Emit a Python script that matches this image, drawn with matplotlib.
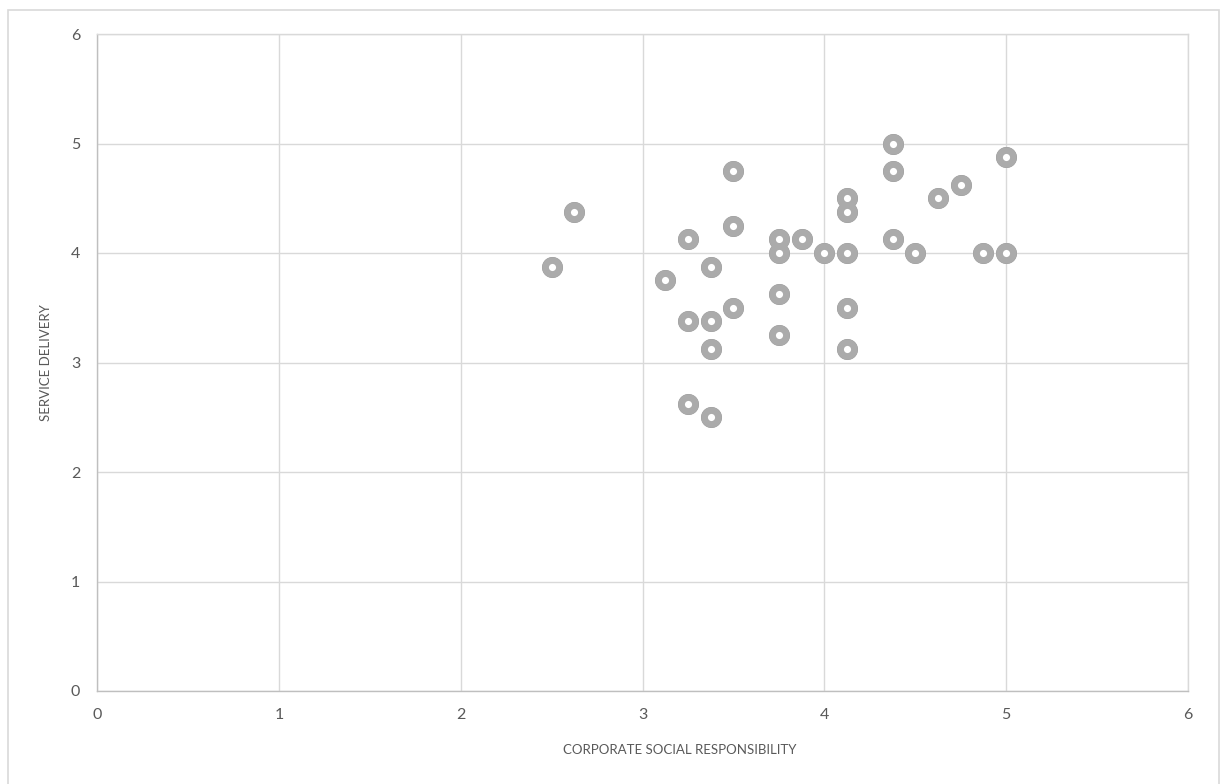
import matplotlib
matplotlib.use("Agg")
import matplotlib.pyplot as plt
from matplotlib.patches import Rectangle

# ==============================
# Data
# ==============================
csr = [2.5, 2.625, 3.125, 3.25, 3.25, 3.25, 3.375, 3.375, 3.375, 3.375,
       3.5, 3.5, 3.5, 3.75, 3.75, 3.75, 3.75, 3.875, 4.0,
       4.125, 4.125, 4.125, 4.125, 4.125, 4.375, 4.375, 4.375,
       4.5, 4.625, 4.75, 4.875, 5.0, 5.0]
service = [3.875, 4.375, 3.75, 4.125, 3.375, 2.625, 3.875, 3.375, 3.125, 2.5,
           4.75, 4.25, 3.5, 4.125, 4.0, 3.625, 3.25, 4.125, 4.0,
           4.5, 4.375, 4.0, 3.5, 3.125, 5.0, 4.75, 4.125,
           4.0, 4.5, 4.625, 4.0, 4.875, 4.0]
ticks = [0, 1, 2, 3, 4, 5, 6]

plt.rcParams['font.family'] = ['Lato', 'DejaVu Sans']

fig = plt.figure(figsize=(12.23, 7.84), dpi=100)
ax = fig.add_axes([97 / 1223, 1 - 691 / 784, 1091 / 1223, 657 / 784])

# outer chart border
fig.patches.append(Rectangle((8 / 1223, -0.05), 1211 / 1223, 1.05 - 10 / 784,
                             transform=fig.transFigure, fill=False,
                             edgecolor='#d9d9d9', linewidth=1.2))

# ring markers: darker outline + lighter ring + white centre
ax.scatter(csr, service, s=200, facecolor='white', edgecolor='#999999',
           linewidth=1.0, zorder=3)
ax.scatter(csr, service, s=100, facecolor='white', edgecolor='#ababab',
           linewidth=4.8, zorder=4)

ax.set_xlim(0, 6)
ax.set_ylim(0, 6)
ax.set_xticks(ticks)
ax.set_yticks(ticks)
ax.grid(True, color='#d9d9d9', linewidth=1.0)
ax.set_axisbelow(True)
for sp in ax.spines.values():
    sp.set_color('#d9d9d9')
    sp.set_linewidth(1.0)
ax.spines['left'].set_color('#bfbfbf')
ax.spines['bottom'].set_color('#bfbfbf')
ax.tick_params(length=0, labelsize=11.5, labelcolor='#595959', pad=12)

ax.set_xlabel("CORPORATE SOCIAL RESPONSIBILITY", fontsize=9.5, color='#595959')
ax.xaxis.set_label_coords(583 / 1091, -53 / 657)
ax.set_ylabel("SERVICE DELIVERY", fontsize=9.5, color='#595959', labelpad=14)

fig.savefig("out.png", dpi=100)
